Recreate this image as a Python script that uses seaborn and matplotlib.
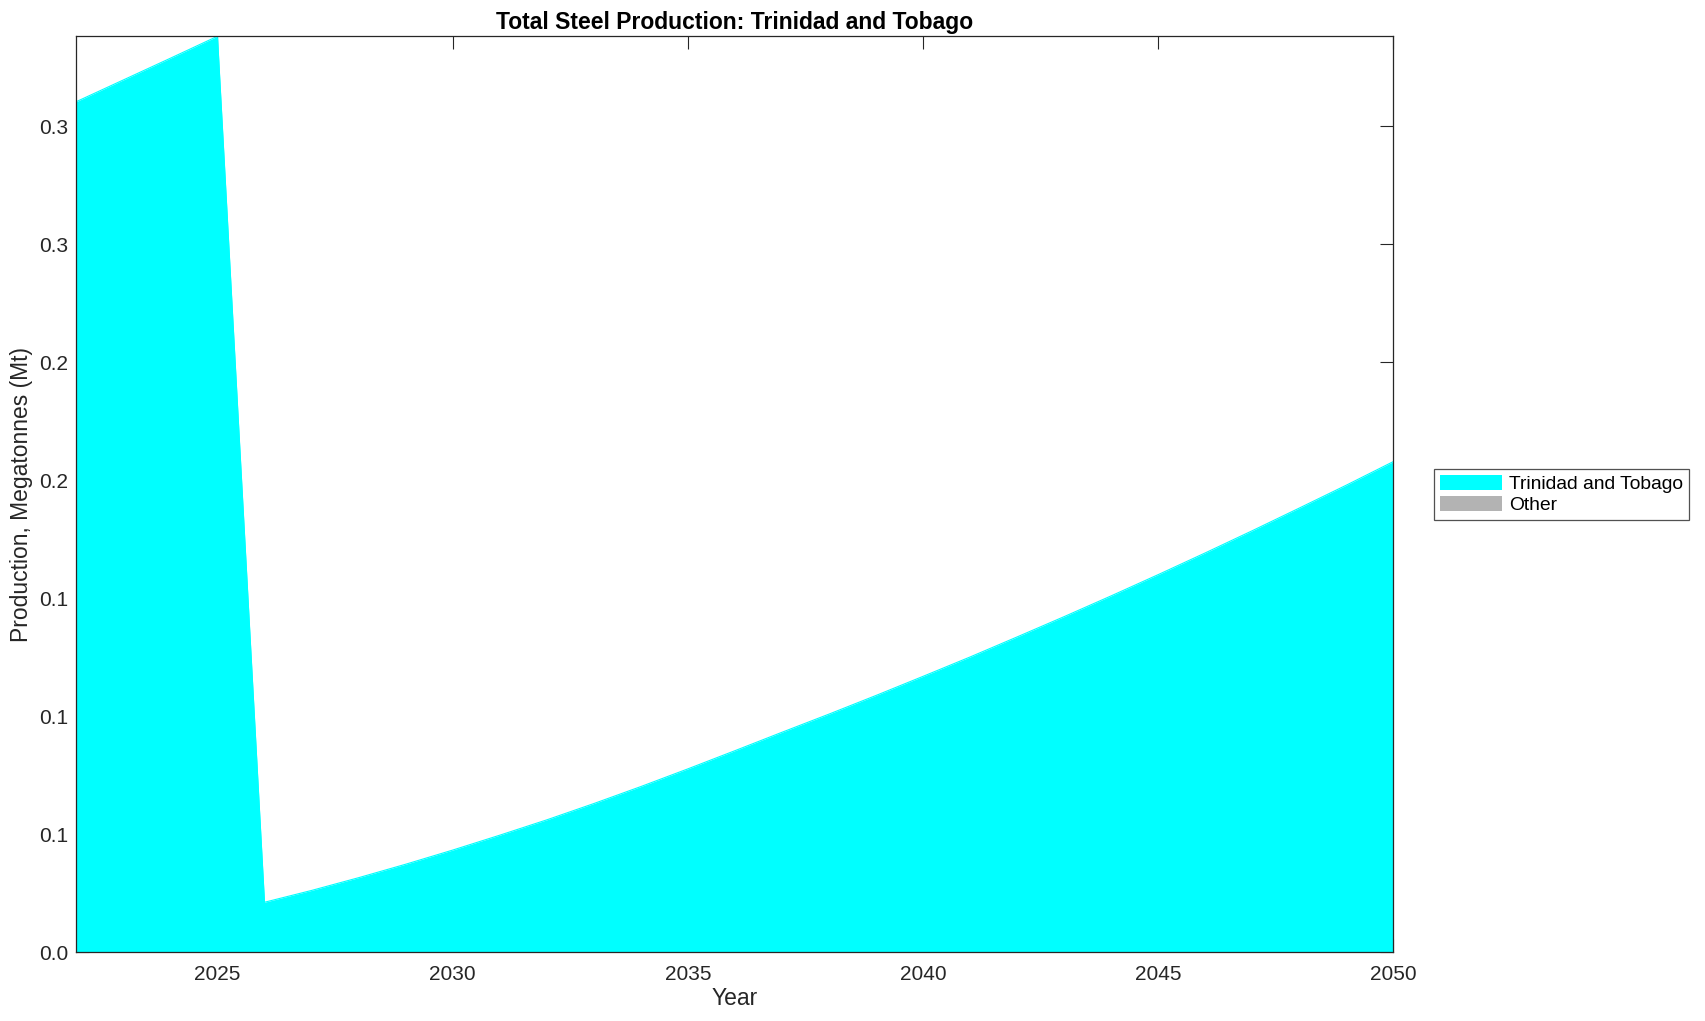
import numpy as np
import pandas as pd
import matplotlib
matplotlib.use("Agg")
import matplotlib.pyplot as plt
import matplotlib.ticker as mticker
from matplotlib.patches import Patch
import seaborn as sns

# --------------------------------------------------------------
# Data
# --------------------------------------------------------------

years = list(range(2022, 2051))
trinidad = [0.3604, 0.3696, 0.3788, 0.3881, 0.0212, 0.0262, 0.0316, 0.0373, 0.0433,
            0.0496, 0.0561, 0.0630, 0.0702, 0.0777, 0.0854, 0.0932, 0.1009, 0.1088,
            0.1169, 0.1251, 0.1336, 0.1422, 0.1510, 0.1600, 0.1692, 0.1786, 0.1882,
            0.1979, 0.2079]
other = [0.0] * len(years)

series_names = ["Trinidad and Tobago", "Other"]
series_colors = ["#00FFFF", "#B3B3B3"]

x_ticks = [2025, 2030, 2035, 2040, 2045, 2050]
y_ticks = [0, 0.05, 0.1, 0.15, 0.2, 0.25, 0.3, 0.35]

df = pd.DataFrame({"year": years, "trinidad": trinidad, "other": other})

# --------------------------------------------------------------
# Plot settings
# --------------------------------------------------------------

sns.set_style("ticks")
plt.rcParams["font.family"] = ["Liberation Sans", "DejaVu Sans"]

fig = plt.figure(figsize=(17.05, 10.21), dpi=100)
ax = fig.add_axes([0.0448, 0.0673, 0.7724, 0.8972])

# --------------------------------------------------------------
# Stacked area
# --------------------------------------------------------------

ax.stackplot(df["year"], df["trinidad"], df["other"],
             colors=series_colors, linewidth=0)
sns.lineplot(data=df, x="year", y="trinidad", ax=ax,
             color=series_colors[0], linewidth=0.8)

ax.set_xlim(2022, 2050)
ax.set_ylim(0, max(trinidad))
ax.set_xticks(x_ticks)
ax.set_yticks(y_ticks)
ax.yaxis.set_major_formatter(mticker.FormatStrFormatter("%.1f"))

for side in ["top", "right", "left", "bottom"]:
    ax.spines[side].set_visible(True)
    ax.spines[side].set_color("#262626")
    ax.spines[side].set_linewidth(0.9)
ax.tick_params(direction="in", length=9.5, width=0.8, color="#262626",
               top=True, right=True, labelsize=15, labelcolor="#262626")
ax.tick_params(axis="x", pad=9)
ax.tick_params(axis="y", pad=6)

ax.set_title("Total Steel Production: Trinidad and Tobago",
             fontsize=16.5, fontweight="bold", color="black", pad=5)
ax.set_xlabel("Year", fontsize=16.5, color="#262626", labelpad=2)
ax.set_ylabel("Production, Megatonnes (Mt)", fontsize=16.5, color="#262626", labelpad=4)

handles = [Patch(facecolor=c, edgecolor="none") for c in series_colors]
leg = ax.legend(handles, series_names, loc="center left",
                bbox_to_anchor=(1.031, 0.5), fontsize=13.9,
                frameon=True, fancybox=False, edgecolor="#262626",
                handlelength=3.2, handleheight=0.83, handletextpad=0.4,
                labelspacing=0.15, borderpad=0.3, borderaxespad=0)
leg.get_frame().set_linewidth(0.9)
for t in leg.get_texts():
    t.set_color("black")

plt.savefig("out.png", dpi=100)
plt.close(fig)
